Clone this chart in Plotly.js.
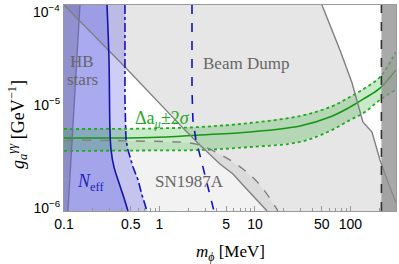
<!DOCTYPE html>
<html><head><meta charset="utf-8">
<script src="https://cdn.plot.ly/plotly-3.0.1.min.js"></script>
<style>html,body{margin:0;padding:0;background:#fff;}#plot{width:399px;height:264px;}</style>
</head><body><div id="plot"></div>
<script>
// axis ranges
const xRange = [0.1, 300];
const yRange = [1e-6, 1e-4];
// tick labels
const xTickVals = [0.1, 0.5, 1, 5, 10, 50, 100];
const xTickText = ['0.1', '0.5', '1', '5', '10', '50', '100'];
const xMinorVals = [0.2,0.3,0.4,0.6,0.7,0.8,0.9,2,3,4,6,7,8,9,20,30,40,60,70,80,90,200];
const yTickVals = [1e-6, 1e-5, 1e-4];
const yTickText = ['10<sup>−6</sup>', '10<sup>−5</sup>', '10<sup>−4</sup>'];
const yMinorVals = [2e-6,3e-6,4e-6,5e-6,6e-6,7e-6,8e-6,9e-6,2e-5,3e-5,4e-5,5e-5,6e-5,7e-5,8e-5,9e-5];

// HB stars boundary
const hbM = [0.147, 0.110];
const hbG = [1e-4, 1e-6];
// N_eff (solid blue)
const neffM = [0.282, 0.296, 0.303, 0.311, 0.334, 0.377, 0.425, 0.468];
const neffG = [1e-4, 2.92e-5, 6.1e-6, 3.91e-6, 2.67e-6, 1.87e-6, 1.34e-6, 1e-6];
// dash-dot blue
const ddM = [0.435, 0.435, 0.446, 0.468, 0.528, 0.596, 0.656, 0.740];
const ddG = [1e-4, 1.2e-5, 4.89e-6, 3.91e-6, 2.67e-6, 2.0e-6, 1.43e-6, 1e-6];
// dashed blue
const dbM = [2.19, 2.19, 2.24, 2.41, 2.65, 3.0, 3.38, 3.72];
const dbG = [1e-4, 1.5e-5, 7.64e-6, 4.89e-6, 3.5e-6, 2.24e-6, 1.43e-6, 1e-6];
// Beam dump lower boundary
const bdLowM = [0.1, 0.435, 1.85, 2.65, 4.3, 5.89, 7.48, 13.4];
const bdLowG = [1e-4, 2.5e-5, 6.1e-6, 4.37e-6, 2.86e-6, 2.29e-6, 1.79e-6, 1e-6];
// Beam dump upper boundary
const bdUpM = [50.3, 58, 77.6, 104, 126, 135, 168, 204, 247, 300];
const bdUpG = [1e-4, 7.15e-5, 3.65e-5, 1.75e-5, 9.57e-6, 7.32e-6, 5.85e-6, 3.13e-6, 1.91e-6, 1.2e-6];
// SN1987A boundary (dashed gray)
const snM = [0.1, 0.49, 2.08, 2.99, 4.85, 7.48, 11.3, 17.4];
const snG = [4.89e-6, 4.79e-6, 4.57e-6, 4.18e-6, 3.34e-6, 2.56e-6, 1.79e-6, 1e-6];
// g-2 band
const gM = [0.1, 0.795, 2.65, 8.87, 29.6, 61.0, 98.8, 142, 204, 299];
const gMid = [5.12e-6, 5.17e-6, 5.47e-6, 5.85e-6, 6.69e-6, 8.18e-6, 1.02e-5, 1.25e-5, 1.56e-5, 2.34e-5];
const gUp = [6.25e-6, 6.32e-6, 6.54e-6, 7.15e-6, 8.36e-6, 1.02e-5, 1.28e-5, 1.56e-5, 2.0e-5, 3.5e-5];
const gLow = [3.83e-6, 3.87e-6, 3.91e-6, 4.18e-6, 4.68e-6, 5.98e-6, 7.64e-6, 9.14e-6, 1.2e-5, 1.5e-5];
// 2 m_mu threshold
const thrM = 211;

const xmin = xRange[0], xmax = xRange[1], ymin = yRange[0], ymax = yRange[1];
const T = [];
function fillPoly(x, y, color) {
  T.push({x: x, y: y, mode: 'lines', fill: 'toself', fillcolor: color, line: {width: 0}, hoverinfo: 'skip', showlegend: false});
}
function line(x, y, color, width, dash, shape) {
  T.push({x: x, y: y, mode: 'lines', line: {color: color, width: width, dash: dash || 'solid', shape: shape || 'linear'}, hoverinfo: 'skip', showlegend: false});
}
// Beam dump
fillPoly(bdLowM.concat([xmax]).concat(bdUpM.slice().reverse()),
         bdLowG.concat([ymin]).concat(bdUpG.slice().reverse()), 'rgba(128,128,128,0.2)');
// SN1987A
fillPoly(snM.concat([xmin]), snG.concat([ymin]), 'rgba(128,128,128,0.1)');
// dash-dot blue region
fillPoly([xmin].concat(ddM).concat([xmin]), [ymax].concat(ddG).concat([ymin]), 'rgba(90,90,230,0.3)');
// N_eff region
fillPoly([xmin].concat(neffM).concat([xmin]), [ymax].concat(neffG).concat([ymin]), 'rgba(90,90,230,0.3)');
// HB region
fillPoly([xmin].concat(hbM).concat([xmin]), [ymax].concat(hbG).concat([ymin]), 'rgba(90,90,130,0.3)');
// g-2 band
fillPoly(gM.concat(gM.slice().reverse()), gUp.concat(gLow.slice().reverse()), 'rgba(40,170,40,0.25)');
line(gM, gMid, 'rgb(20,150,20)', 1.6, 'solid', 'spline');
line(gM, gUp, 'rgb(30,170,30)', 1.8, 'dot', 'spline');
line(gM, gLow, 'rgb(30,170,30)', 1.8, 'dot', 'spline');
// gray boundaries
line(bdLowM, bdLowG, 'rgb(128,128,128)', 1.4);
line(snM, snG, 'rgb(128,128,128)', 1.4, 'dash', 'spline');
line(hbM, hbG, 'rgb(110,110,160)', 1.3);
// blue lines
line(neffM, neffG, 'rgb(20,20,170)', 1.6, 'solid', 'spline');
line(ddM, ddG, 'rgb(20,20,190)', 1.6, 'dashdot');
line(dbM, dbG, 'rgb(20,20,190)', 1.6, 'dash');
line(bdUpM, bdUpG, 'rgb(128,128,128)', 1.4);
// region above 2 m_mu
fillPoly([thrM, xmax, xmax, thrM], [ymin, ymin, ymax, ymax], 'rgba(140,140,140,0.75)');
line([thrM, thrM], [ymin, ymax], 'rgb(50,50,50)', 1.6, 'dash');

const serif = 'Liberation Serif, Times New Roman, serif';
const sans = 'Liberation Sans, Arial, sans-serif';
function px2paper(px, py) { return {x: (px - 64) / 332, y: (211 - py) / 206}; }
function ann(text, px, py, color, size, family, xanchor, angle) {
  const p = px2paper(px, py);
  return {text: text, x: p.x, y: p.y, xref: 'paper', yref: 'paper', showarrow: false, textangle: angle || 0,
          xanchor: xanchor || 'center', yanchor: 'middle', font: {family: family || serif, size: size || 17, color: color}};
}
// top tick label drawn as annotation so it is not clipped by the page edge
const yTickTextShown = yTickText.slice(0, 2).concat(['']);
const layout = {
  width: 399, height: 264,
  margin: {l: 64, r: 3, t: 5, b: 53},
  paper_bgcolor: '#fff', plot_bgcolor: '#fff',
  showlegend: false,
  xaxis: {type: 'log', range: [Math.log10(xmin), Math.log10(xmax)], showgrid: false, zeroline: false,
    tickmode: 'array', tickvals: xTickVals, ticktext: xTickText, ticks: 'inside', ticklen: 5, tickcolor: '#999', tickwidth: 1,
    minor: {tickmode: 'array', tickvals: xMinorVals, ticks: 'inside', ticklen: 3, tickcolor: '#999', showgrid: false},
    showline: true, linecolor: '#999', linewidth: 1, mirror: true, ticklabeloverflow: 'allow',
    tickfont: {family: sans, size: 14, color: '#000'},
    title: {text: ''}},
  yaxis: {type: 'log', range: [Math.log10(ymin), Math.log10(ymax)], showgrid: false, zeroline: false,
    tickmode: 'array', tickvals: yTickVals, ticktext: yTickTextShown, ticks: 'inside', ticklen: 5, tickcolor: '#999', tickwidth: 1,
    minor: {tickmode: 'array', tickvals: yMinorVals, ticks: 'inside', ticklen: 3, tickcolor: '#999', showgrid: false},
    showline: true, linecolor: '#999', linewidth: 1, mirror: true, ticklabeloverflow: 'allow', ticklabelshift: -3,
    tickfont: {family: sans, size: 14, color: '#000'},
    title: {text: ''}},
  annotations: [
    ann(yTickText[2], 62, 11, '#000', 14, sans, 'right'),
    ann('<i>g</i><sub><i>a</i></sub><sup><i>γγ</i></sup> [GeV<sup>−1</sup>]', 17, 124, '#000', 18, serif, 'center', -90),
    ann('<i>m</i><sub><i>ϕ</i></sub> [MeV]', 230, 253, '#000', 17, serif, 'center'),
    ann('HB', 82, 61, '#666'),
    ann('stars', 82, 80, '#666'),
    ann('Beam Dump', 246, 63, '#666'),
    ann('SN1987A', 189, 181, '#666'),
    ann('<i>N</i><sub>eff</sub>', 91, 182, 'rgb(30,30,190)', 18),
    ann('Δa<sub><i>μ</i></sub>±2<i>σ</i>', 162, 119, 'rgb(30,170,30)', 18)
  ]
};
Plotly.newPlot('plot', T, layout, {staticPlot: true, displayModeBar: false});
</script></body></html>
